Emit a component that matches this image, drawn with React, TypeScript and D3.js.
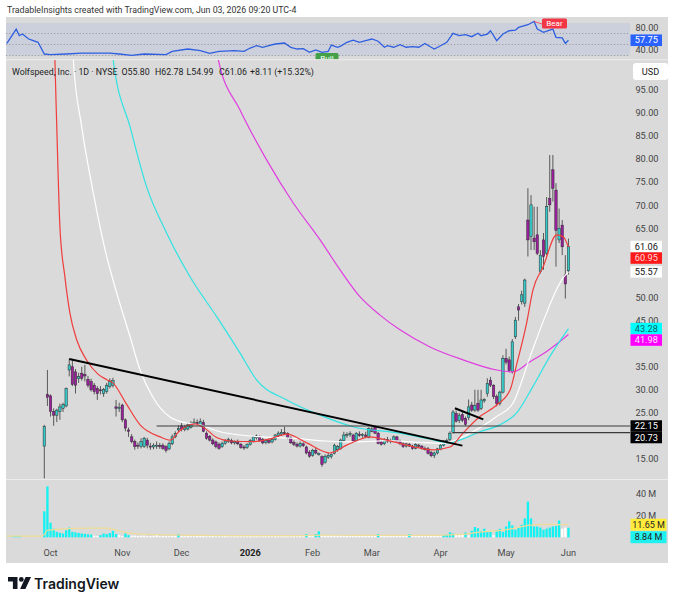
import React from "react";
import * as d3 from "d3";

// Daily bars, index 0 = first session after relisting (late Sep 2025)
const opens = [
  17.8, 29.0, 28.7, 25.3, 24.5, 25.3, 26.0, 26.5, 34.3, 35.0,
  33.9, 32.4, 33.6, 33.3, 32.3, 31.8, 31.0, 30.3, 30.0, 29.2,
  29.6, 30.7, 31.0, 26.3, 25.9, 26.7, 23.5, 21.3, 19.8, 18.8,
  18.0, 17.7, 17.7, 19.1, 17.8, 17.6, 17.8, 17.9, 18.0, 17.7,
  17.2, 18.3, 19.8, 21.3, 22.2, 21.4, 21.5, 21.9, 22.7, 22.9,
  22.4, 22.9, 20.6, 19.9, 19.1, 18.7, 18.2, 17.7, 18.4, 18.8,
  19.0, 18.5, 18.7, 18.2, 17.6, 17.5, 18.1, 18.9, 19.6, 19.9,
  19.2, 18.6, 19.0, 18.7, 19.2, 20.0, 20.4, 20.7, 20.5, 19.6,
  18.6, 18.2, 17.8, 18.3, 17.6, 16.5, 15.8, 16.9, 16.0, 15.5,
  14.2, 15.4, 15.5, 16.2, 17.0, 17.3, 19.0, 20.2, 20.3, 20.2,
  18.9, 20.4, 20.1, 20.2, 19.7, 21.5, 21.9, 20.6, 18.7, 18.3,
  19.2, 18.8, 19.0, 19.8, 18.9, 18.3, 17.8, 18.2, 17.8, 17.3,
  18.0, 17.8, 17.3, 17.2, 16.4, 15.8, 16.3, 17.1, 18.0, 18.8,
  19.2, 20.8, 24.9, 23.3, 24.6, 23.8, 24.0, 26.7, 25.6, 27.1,
  26.0, 27.6, 29.2, 32.1, 31.0, 28.5, 27.0, 29.5, 36.8, 36.5,
  34.0, 41.5, 48.0, 49.1, 48.8, 66.8, 63.2, 62.9, 63.6, 55.6,
  62.5, 59.6, 71.5, 77.7, 73.3, 62.5, 65.7, 54.9, 55.8,
];
const highs = [
  22.4, 34.3, 29.0, 26.0, 25.9, 27.0, 27.2, 30.5, 36.7, 36.5,
  34.5, 33.7, 35.0, 35.4, 33.0, 32.4, 31.5, 30.8, 30.8, 30.4,
  31.5, 32.5, 32.6, 27.8, 27.2, 27.0, 23.8, 21.8, 20.4, 19.2,
  18.6, 19.5, 19.8, 19.6, 18.5, 18.4, 18.8, 18.5, 18.4, 18.0,
  18.8, 20.3, 21.0, 22.3, 22.8, 22.4, 22.8, 23.2, 23.8, 23.6,
  23.8, 23.5, 21.0, 20.2, 19.5, 19.0, 18.6, 18.8, 19.3, 19.6,
  19.4, 19.0, 19.2, 18.5, 18.0, 18.4, 19.3, 20.0, 20.3, 20.1,
  19.6, 19.3, 19.4, 19.5, 20.4, 21.0, 21.5, 22.0, 20.8, 19.9,
  19.0, 18.6, 18.8, 18.6, 17.9, 16.9, 17.2, 17.4, 16.4, 15.8,
  16.0, 16.3, 16.2, 18.3, 18.0, 19.4, 20.9, 20.8, 21.0, 20.5,
  20.8, 21.0, 20.6, 20.9, 21.9, 22.2, 22.2, 20.9, 19.3, 19.5,
  19.8, 19.4, 20.1, 20.0, 19.2, 18.6, 18.5, 18.5, 18.1, 18.4,
  18.3, 18.0, 17.7, 17.6, 16.8, 16.6, 17.4, 18.2, 19.1, 19.4,
  21.0, 25.6, 25.5, 25.0, 25.2, 24.2, 27.9, 27.4, 30.0, 30.0,
  30.0, 28.2, 32.5, 32.8, 31.2, 29.0, 29.8, 37.5, 38.9, 37.2,
  41.0, 45.8, 48.6, 51.5, 54.1, 73.7, 72.2, 69.7, 69.7, 60.3,
  64.0, 71.8, 80.9, 80.9, 74.8, 69.3, 66.8, 59.2, 62.78,
];
const lows = [
  10.8, 26.5, 24.2, 22.2, 23.0, 23.5, 25.2, 26.2, 32.9, 30.8,
  29.2, 31.5, 32.0, 31.8, 30.5, 29.6, 29.0, 27.8, 29.0, 28.5,
  29.2, 30.3, 30.5, 24.2, 25.2, 23.0, 21.0, 19.8, 18.4, 17.0,
  17.2, 17.3, 17.4, 17.3, 17.0, 17.1, 17.2, 17.2, 17.0, 16.4,
  16.9, 18.0, 19.5, 20.8, 21.0, 21.0, 21.2, 21.6, 22.3, 22.3,
  22.1, 20.8, 19.2, 18.8, 18.0, 17.3, 17.0, 17.4, 18.1, 18.5,
  18.2, 18.1, 18.0, 17.2, 17.0, 17.2, 17.9, 18.6, 19.2, 18.8,
  18.2, 18.2, 18.3, 18.4, 19.0, 19.6, 20.0, 20.3, 19.3, 18.3,
  17.8, 17.5, 17.5, 17.6, 16.0, 15.3, 15.5, 16.0, 15.7, 13.3,
  14.0, 15.0, 15.1, 16.0, 16.6, 17.0, 18.8, 19.6, 19.8, 18.6,
  18.6, 19.8, 19.6, 19.7, 19.5, 20.8, 20.4, 18.2, 17.9, 18.0,
  18.5, 18.4, 18.7, 18.5, 18.0, 17.4, 17.5, 17.6, 17.0, 17.1,
  17.4, 17.0, 16.8, 16.0, 15.4, 15.2, 16.0, 16.9, 17.7, 18.3,
  18.9, 20.5, 22.9, 22.8, 23.0, 22.2, 23.4, 25.2, 25.2, 25.2,
  25.6, 27.2, 28.5, 30.6, 28.0, 26.4, 26.6, 29.2, 35.5, 33.8,
  33.5, 41.0, 45.0, 48.5, 48.0, 58.9, 60.3, 60.3, 59.2, 55.2,
  56.0, 59.2, 68.6, 70.8, 56.7, 61.8, 59.2, 49.8, 54.99,
];
const closes = [
  22.0, 28.4, 25.3, 24.5, 25.6, 26.3, 26.8, 30.3, 35.4, 31.2,
  31.0, 32.9, 32.5, 33.0, 31.0, 30.0, 29.6, 29.2, 29.8, 30.1,
  31.0, 31.8, 32.0, 26.0, 26.2, 23.5, 21.7, 21.0, 18.8, 17.7,
  17.8, 18.8, 19.5, 18.0, 17.6, 18.0, 18.0, 17.7, 17.3, 16.9,
  18.4, 19.8, 20.5, 21.6, 21.5, 21.9, 22.4, 22.7, 23.0, 22.8,
  23.1, 21.0, 19.5, 19.1, 18.3, 17.7, 17.3, 18.4, 18.9, 19.2,
  18.5, 18.8, 18.3, 17.5, 17.4, 18.2, 19.0, 19.8, 20.0, 19.0,
  18.5, 19.0, 18.6, 19.2, 20.2, 20.6, 20.8, 20.5, 19.6, 18.5,
  18.2, 17.8, 18.4, 17.9, 16.3, 15.6, 16.9, 16.3, 16.2, 13.8,
  15.6, 15.8, 16.0, 18.0, 17.7, 19.1, 20.2, 20.3, 20.5, 18.9,
  20.6, 20.1, 20.3, 19.9, 21.6, 21.0, 20.6, 18.4, 18.2, 19.3,
  18.8, 19.0, 19.8, 18.8, 18.3, 17.7, 18.3, 17.8, 17.3, 18.1,
  17.8, 17.3, 17.2, 16.2, 15.7, 16.3, 17.2, 18.0, 18.9, 19.0,
  20.6, 25.2, 23.2, 24.5, 23.4, 22.5, 26.3, 25.6, 26.6, 25.6,
  27.8, 27.9, 31.4, 31.0, 28.5, 27.0, 29.5, 36.8, 36.0, 34.2,
  40.4, 45.1, 47.3, 50.6, 53.8, 62.5, 70.1, 62.1, 59.6, 59.2,
  58.9, 69.7, 70.1, 73.7, 64.6, 65.0, 61.0, 52.95, 61.06,
];

// Volume in millions, first value is bar index -12 (old listing)
const volumeFirstIndex = -12;
const volumes = [
  0, 0, 1, 1.2, 1, 0, 0, 0, 0, 0, 0, 0,
  24, 47, 13.5, 8, 5, 4.2, 3.5, 6.5, 9, 5,
  4.5, 4, 3.5, 3.2, 2.8, 2.5, 1.5, 1.2, 2, 3.5,
  3, 4, 6, 3, 2, 1.2, 3.5, 2, 1.5, 1.5,
  1.2, 1.5, 1.5, 1, 1.2, 1.5, 2, 1, 1.2, 1.5,
  1, 1.2, 1.5, 3, 1.2, 1, 1.2, 1, 1, 1.2,
  1.5, 1.2, 1, 1, 1.2, 1, 1, 1, 1.2, 1,
  1, 1, 1.2, 1, 1, 1, 1.2, 1, 1.2, 1,
  1, 1.2, 1, 1, 1.2, 1, 1, 1.2, 1, 1,
  1.2, 1, 1.2, 1, 3, 1.2, 1.2, 3, 5.5, 2,
  2, 2, 2, 1.8, 1.8, 1.5, 1.5, 1.5, 1.5, 1.2,
  1.5, 1.2, 1.5, 1.5, 1.2, 1.5, 1.5, 3, 1.5, 1.5,
  1.2, 1.5, 1.2, 1.2, 1.5, 1.2, 1.2, 3, 1.2, 1.2,
  1.2, 1.2, 1, 1.2, 1.5, 1.2, 1.2, 1.5, 2, 2.5,
  4.6, 3.5, 2.5, 2.5, 2.2, 4.5, 1.8, 6, 9.5, 8.5,
  6, 8, 5, 5, 2, 6.5, 7.8, 5, 10, 14.8,
  11, 7, 9, 11.5, 17.5, 33, 17.5, 10, 10, 9,
  7, 8, 9, 10, 10.5, 15.5, 8, 9, 8.84,
];
const volumeUp = [
  1, 1, 1, 1, 1, 1, 1, 1, 1, 1, 1, 1,
  1, 1, 1, 1, 1, 1, 1, 1, 1, 1,
  1, 1, 1, 1, 1, 1, 0, 0, 1, 1,
  1, 1, 1, 1, 0, 0, 1, 1, 0, 0,
  0, 0, 0, 0, 0, 0, 0, 0, 0, 0,
  0, 0, 0, 1, 0, 0, 0, 0, 0, 0,
  0, 0, 0, 0, 0, 0, 0, 0, 0, 0,
  0, 0, 0, 0, 0, 0, 0, 0, 0, 0,
  0, 0, 0, 0, 0, 0, 0, 0, 0, 0,
  0, 0, 0, 0, 1, 0, 0, 1, 1, 0,
  0, 0, 0, 0, 0, 0, 0, 0, 0, 0,
  0, 0, 0, 0, 0, 0, 0, 1, 0, 0,
  0, 0, 0, 0, 0, 0, 0, 1, 0, 0,
  0, 0, 0, 0, 0, 0, 0, 0, 1, 1,
  1, 1, 0, 0, 0, 1, 0, 1, 1, 1,
  1, 1, 1, 1, 0, 1, 1, 1, 1, 1,
  1, 1, 1, 1, 1, 1, 1, 1, 1, 1,
  1, 1, 1, 1, 1, 1, 0, 0, 1,
];
const volumeAvg: [number, number][] = [
  [-12, 1], [-1, 1], [0, 2.5], [1, 6.5], [5, 7.5], [10, 8.2], [15, 8.5],
  [20, 8.4], [22, 7.5], [25, 5], [30, 3.2], [40, 2.2], [50, 1.8], [60, 1.6],
  [80, 1.6], [90, 2], [100, 1.8], [120, 1.7], [130, 2.3], [135, 3],
  [140, 5], [145, 6], [150, 8], [155, 11], [160, 12], [165, 11.8], [168, 11.65],
];

// Moving averages as [bar, price]
const maRed: [number, number][] = [
  [2, 160], [3.4, 101.5], [4, 87], [5, 65.4], [6.6, 54.5], [8.2, 46.7],
  [10.4, 40.8], [13.6, 36.4], [17.2, 33.4], [20, 32.2], [22, 31.5],
  [25.9, 27.4], [30.7, 22.4], [37.1, 19.8], [40.3, 19.1], [43.5, 21.2],
  [48.3, 22.6], [50.9, 21.9], [55.4, 19.6], [59.5, 18.9], [66.9, 18.75],
  [72, 19.3], [77.7, 20.4], [84.1, 18.5], [91.6, 16.3], [96.9, 18],
  [104.4, 19.8], [109.7, 19.1], [118.2, 17.7], [124.6, 17], [130, 17.6],
  [134.2, 20.6], [139.6, 24.2], [145, 26.7], [149.3, 30], [151.4, 35.5],
  [154.6, 44.5], [156.6, 51.6], [159.9, 56.7], [164.2, 63.6], [166.3, 63.2],
  [168, 60.95],
];
const maWhite: [number, number][] = [
  [8.5, 130], [9.3, 101.5], [12, 87], [15.7, 72.7], [19.5, 60.3],
  [23.2, 51], [27.5, 41.5], [30.7, 34.3], [34.8, 28.4], [40.3, 24.1],
  [45.6, 22.8], [49.9, 22.4], [56.3, 20.9], [62.7, 20.2], [70, 19.8],
  [80, 19.5], [90, 18.9], [100, 18.7], [110, 19], [120, 18.6], [128, 18.4],
  [133, 19.4], [136.5, 20.6], [145, 24.2], [150.2, 27.1], [155.7, 37.2],
  [160, 45], [164, 51.5], [166, 54], [168, 55.57],
];
const maCyan: [number, number][] = [
  [20.5, 130], [22.1, 101.5], [27.5, 87], [32.8, 74], [39.2, 64],
  [46.7, 54.5], [55.3, 45.8], [62.7, 38], [68.1, 32.1], [77.7, 27.8],
  [88.4, 24.5], [98.9, 22], [114, 20.6], [123.6, 19.3], [129.4, 18.5],
  [134, 19.3], [139.6, 20.9], [146, 22.4], [151.4, 25], [156.6, 30.7],
  [162, 37.2], [168, 43.28],
];
const maMagenta: [number, number][] = [
  [54, 120], [55.8, 101.5], [62.7, 90.7], [71.3, 79.8], [79.8, 70.5],
  [88.4, 62.5], [94.8, 56], [101, 50.3], [107.6, 46.2], [114, 43],
  [123.6, 39.3], [134.2, 36.5], [145, 34.3], [150.2, 33.9], [155.7, 36.1],
  [161, 38.3], [168, 41.98],
];

const rsiPoints: [number, number][] = [
  [-12, 52], [-9, 78], [-8, 66], [-7, 69], [-5, 60], [-4, 58], [-2, 54],
  [0, 32.7], [2, 31.5], [7, 32.7], [12, 34.5], [21, 34.5], [24, 32.7],
  [28, 30.3], [32, 32.7], [39, 31.5], [41, 37.6], [46, 41.8], [50, 38.8],
  [53, 34], [56, 37.6], [61, 38.8], [64, 37.6], [66, 43.6], [68, 47.8],
  [70, 44.9], [72, 47.8], [74, 50.9], [77, 52.7], [79, 44.9], [81, 41.8],
  [83, 42.4], [85, 35.8], [87, 40], [89, 35.8], [91, 37.6], [92, 49],
  [94, 45], [95, 47], [97, 54], [99, 58], [101, 54], [103, 57], [105, 60],
  [107, 56], [109, 45], [110, 48], [112, 45], [114, 49.6], [116, 45],
  [118, 46], [120, 45], [122, 52], [124, 45], [125, 41.8], [127, 47.8],
  [129, 54], [131, 70.4], [133, 66], [135, 67.8], [137, 64.2], [139, 70.4],
  [140, 66], [142, 69], [143, 75], [145, 57], [147, 69], [149, 75],
  [151, 76], [152, 81], [155, 86], [157, 92], [158, 78], [160, 72],
  [162, 76], [163, 78], [164, 63], [166, 62], [167, 52], [168, 57.75],
];

const trendMain: [number, number][] = [[8, 36.7], [134, 17.9]];
const trendShort: [number, number][] = [[131.6, 26.0], [140.7, 23.6]];
const levelValues = [22.15, 20.73];
const levelStarts = [36, 131];

const priceTicks = [15, 20, 25, 30, 35, 40, 45, 50, 55, 60, 65, 70, 75, 80, 85, 90, 95];
const markerValues = [61.06, 60.95, 55.57, 43.28, 41.98, 22.15, 20.73];
const monthLabels = ["Oct", "Nov", "Dec", "2026", "Feb", "Mar", "Apr", "May", "Jun"];
const monthBars = [2, 25, 44, 66, 86, 105, 127, 148, 168];
const volumeTicks = [20, 40];
const volumeMarkers = [11.65, 8.84];

const FONT = "Roboto, 'Liberation Sans', Arial, sans-serif";
const BG = "#dadada";
const UP = "#35c9c9";
const DOWN = "#9c1f9f";

const x = d3.scaleLinear().domain([0, 168]).range([44.3, 568.46]);
const y = d3.scaleLinear().domain([15, 95]).range([459, 90]);
const yRsi = d3.scaleLinear().domain([40, 80]).range([50, 28]);
const yVol = d3.scaleLinear().domain([0, 40]).range([537.3, 494]);

const plotLeft = 6;
const plotRight = 630;

// push overlapping axis boxes down like the price scale does
function stack(values: number[], scale: (v: number) => number, h: number) {
  const out: number[] = [];
  values.forEach((v, i) => {
    let p = scale(v);
    if (i > 0 && p < out[i - 1] + h) p = out[i - 1] + h;
    out.push(p);
  });
  return out;
}

export default function App() {
  const maLine = d3
    .line<[number, number]>()
    .x((d) => x(d[0]))
    .y((d) => y(d[1]))
    .curve(d3.curveMonotoneX);
  const rsiLine = d3
    .line<[number, number]>()
    .x((d) => x(d[0]))
    .y((d) => yRsi(d[1]));
  const volLine = d3
    .line<[number, number]>()
    .x((d) => x(d[0]))
    .y((d) => yVol(d[1]))
    .curve(d3.curveMonotoneX);

  const markerPos = stack(markerValues, y, 11.5);
  const markerBg = ["#ffffff", "#ff1a1a", "#ffffff", "#00ffff", "#ff00ff", "#000000", "#000000"];
  const markerFg = ["#111", "#ffd9d9", "#111", "#0d5f5f", "#ffe0ff", "#fff", "#fff"];
  const volPos = stack(volumeMarkers, yVol, 12.5);
  // the scale hides tick labels sitting under a marker box
  const shownTicks = priceTicks.filter((v) => markerPos.every((p) => Math.abs(y(v) - p) >= 7.5));

  return (
    <div style={{ position: "absolute", left: 0, top: 0 }}>
      <svg width={680} height={603} style={{ display: "block", background: "#fff" }} fontFamily={FONT}>
        <defs>
          <clipPath id="rsiClip">
            <rect x={plotLeft} y={17} width={plotRight - plotLeft} height={42.5} />
          </clipPath>
          <clipPath id="priceClip">
            <rect x={plotLeft} y={60} width={plotRight - plotLeft} height={419} />
          </clipPath>
          <clipPath id="volClip">
            <rect x={plotLeft} y={480} width={plotRight - plotLeft} height={60} />
          </clipPath>
        </defs>

        <text x={7} y={12.5} fontSize={8.8} fill="#333">
          TradableInsights created with TradingView.com, Jun 03, 2026 09:20 UTC-4
        </text>

        <rect x={6} y={17} width={662} height={546} fill={BG} />

        {/* RSI pane */}
        <g clipPath="url(#rsiClip)">
          <rect x={plotLeft} y={yRsi(89)} width={plotRight - plotLeft} height={yRsi(30) - yRsi(89)} fill="rgba(41,98,255,0.075)" />
          {[70, 50, 30].map((v) => (
            <line key={v} x1={plotLeft} x2={plotRight} y1={yRsi(v)} y2={yRsi(v)} stroke="#8d8d8d" strokeWidth={0.8} strokeDasharray="1.2,2" />
          ))}
          <path d={rsiLine(rsiPoints) || ""} fill="none" stroke="#2f5fe0" strokeWidth={1.3} />
          <line x1={x(157)} y1={yRsi(92)} x2={542} y2={24} stroke="#f23645" strokeWidth={0.8} />
          <rect x={542} y={18.5} width={25} height={10} rx={1.5} fill="#f23645" />
          <text x={554.5} y={26.3} fontSize={8} fill="#fff" textAnchor="middle">Bear</text>
          <rect x={315.5} y={53} width={23} height={11} rx={1.5} fill="#43a047" />
          <text x={327} y={61} fontSize={8} fill="#fff" textAnchor="middle">Bull</text>
        </g>
        {[80, 40].map((v) => (
          <text key={v} x={647} y={yRsi(v)} dy="0.35em" fontSize={9.2} fill="#444" textAnchor="middle">
            {v.toFixed(2)}
          </text>
        ))}
        <rect x={630.5} y={yRsi(57.75) - 5.8} width={31.5} height={11.6} fill="#2962ff" />
        <text x={646.3} y={yRsi(57.75)} dy="0.35em" fontSize={9.2} fill="#fff" textAnchor="middle">57.75</text>

        <line x1={6} x2={668} y1={59.7} y2={59.7} stroke="#ececec" strokeWidth={1} />
        <line x1={6} x2={668} y1={479.5} y2={479.5} stroke="#ececec" strokeWidth={1} />

        {/* price pane */}
        <g clipPath="url(#priceClip)">
          {closes.map((c, i) => {
            const o = opens[i];
            const cx = x(i);
            const top = y(Math.max(o, c));
            const bot = y(Math.min(o, c));
            return (
              <g key={i}>
                <line x1={cx} x2={cx} y1={y(highs[i])} y2={y(lows[i])} stroke="#4a4a4a" strokeWidth={0.9} />
                <rect x={cx - 1.2} y={top} width={2.4} height={Math.max(1, bot - top)} fill={c >= o ? UP : DOWN} stroke="#2b2b2b" strokeWidth={0.5} />
              </g>
            );
          })}
          <path d={maLine(maMagenta) || ""} fill="none" stroke="#e03ee0" strokeWidth={1.2} />
          <path d={maLine(maCyan) || ""} fill="none" stroke="#2fe3e3" strokeWidth={1.2} />
          <path d={maLine(maWhite) || ""} fill="none" stroke="#ffffff" strokeWidth={1.2} />
          <path d={maLine(maRed) || ""} fill="none" stroke="#f03c3c" strokeWidth={1.2} />
          {levelValues.map((v, k) => (
            <line key={v} x1={x(levelStarts[k])} x2={plotRight} y1={y(v)} y2={y(v)} stroke="#3a3a3a" strokeWidth={1.2} />
          ))}
          <line x1={x(trendMain[0][0])} y1={y(trendMain[0][1])} x2={x(trendMain[1][0])} y2={y(trendMain[1][1])} stroke="#000" strokeWidth={2} />
          <line x1={x(trendShort[0][0])} y1={y(trendShort[0][1])} x2={x(trendShort[1][0])} y2={y(trendShort[1][1])} stroke="#000" strokeWidth={2} />
        </g>

        <text fontSize={8.8} fill="#222" y={75}>
          <tspan x={12}>Wolfspeed, Inc. · 1D · NYSE</tspan>
          <tspan x={121.5}>O55.80</tspan>
          <tspan x={155}>H62.78</tspan>
          <tspan x={186.5}>L54.99</tspan>
          <tspan x={219}>C61.06</tspan>
          <tspan x={250}>+8.11 (+15.32%)</tspan>
        </text>

        <rect x={633} y={63} width={35} height={17} rx={3} fill="#fff" />
        <text x={650.5} y={71.5} dy="0.35em" fontSize={9.2} fill="#222" textAnchor="middle">USD</text>

        {shownTicks.map((v) => (
          <text key={v} x={647} y={y(v)} dy="0.35em" fontSize={9.2} fill="#444" textAnchor="middle">
            {v.toFixed(2)}
          </text>
        ))}
        {markerValues.map((v, k) => (
          <g key={v}>
            <rect x={630.5} y={markerPos[k] - 5.75} width={31.5} height={11.5} fill={markerBg[k]} />
            <text x={646.3} y={markerPos[k]} dy="0.35em" fontSize={9.2} fill={markerFg[k]} textAnchor="middle">
              {v.toFixed(2)}
            </text>
          </g>
        ))}

        {/* volume pane */}
        <g clipPath="url(#volClip)">
          {volumes.map((v, k) => {
            if (v <= 0) return null;
            const i = k + volumeFirstIndex;
            return (
              <rect key={k} x={x(i) - 1.15} y={yVol(v)} width={2.3} height={yVol(0) - yVol(v)} fill={volumeUp[k] ? "#13f2f2" : "#ffffff"} />
            );
          })}
          <path d={volLine(volumeAvg) || ""} fill="none" stroke="#eedc98" strokeWidth={1.2} />
        </g>
        {volumeTicks.map((v) => (
          <text key={v} x={646} y={yVol(v)} dy="0.35em" fontSize={9} fill="#444" textAnchor="middle">
            {v} M
          </text>
        ))}
        {volumeMarkers.map((v, k) => (
          <g key={v}>
            <rect x={630.5} y={volPos[k] - 6} width={36} height={12} fill={k === 0 ? "#ffeb3b" : "#1ff0f0"} />
            <text x={648.5} y={volPos[k]} dy="0.35em" fontSize={9} fill="#222" textAnchor="middle">
              {v.toFixed(2)} M
            </text>
          </g>
        ))}

        {/* time axis */}
        {monthLabels.map((m, k) => (
          <text key={m} x={x(monthBars[k])} y={553} dy="0.35em" fontSize={9.2} textAnchor="middle" fill={m === "2026" ? "#222" : "#4a4a4a"} fontWeight={m === "2026" ? 700 : 400}>
            {m}
          </text>
        ))}

        {/* TradingView mark */}
        <g fill="#131722">
          <path d="M8,577 h9.5 v12 h-4.6 v-7.4 h-4.9 z" />
          <circle cx={21.3} cy={579.4} r={2.4} />
          <path d="M25.6,577 h5.4 l-5.6,12 h-5.3 z" />
        </g>
        <text x={34} y={589} fontSize={14} fontWeight={600} fill="#131722" fontFamily="Inter, 'Noto Sans', sans-serif">
          TradingView
        </text>
      </svg>
    </div>
  );
}
